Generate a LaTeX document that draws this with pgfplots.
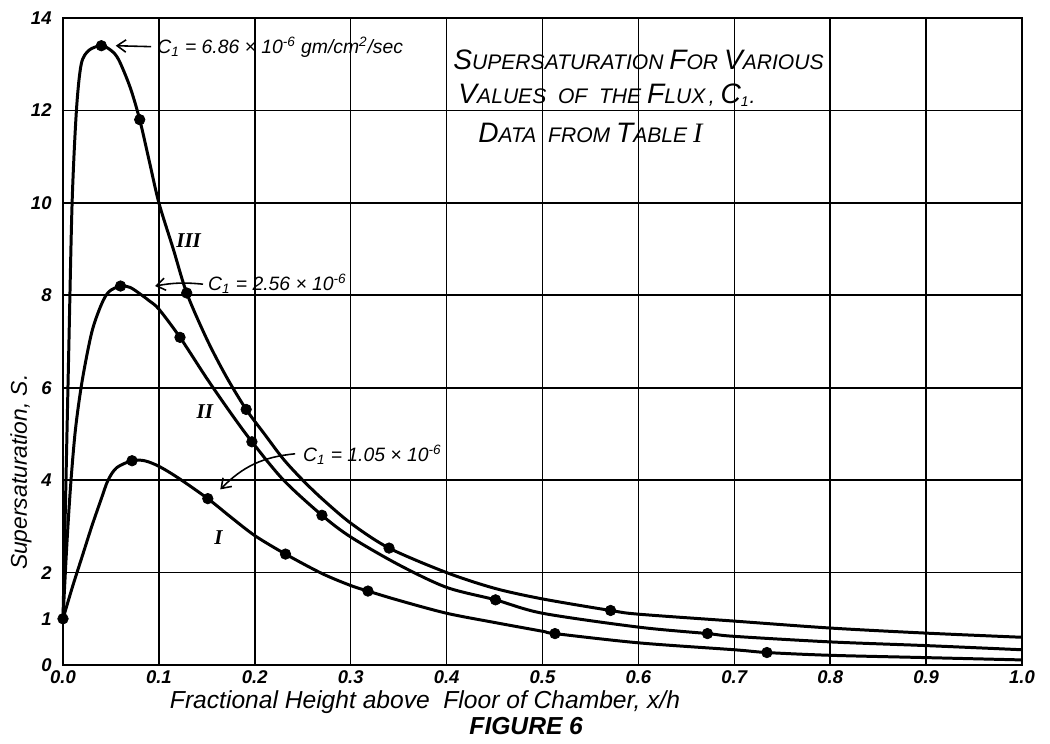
\documentclass[border=0pt]{standalone}
\usepackage{fontspec}
\setmainfont{Liberation Sans}
\newfontfamily\romanfont{Liberation Serif}
\usepackage{graphicx}
\usepackage{pgfplots}
\usepackage{pgfplotstable}
\pgfplotsset{compat=1.18}
\usetikzlibrary{arrows.meta}

% curve III, C1 = 6.86e-6
\pgfplotstableread{
x y
0 1
0.003 3.9
0.006 6.8
0.0095 10.0
0.014 12.0
0.019 13.0
0.027 13.3
0.040 13.4
0.050 13.3
0.058 13.1
0.070 12.5
0.080 11.8
0.090 10.9
0.100 10.0
0.115 9.0
0.129 8.05
0.150 7.05
0.170 6.25
0.191 5.53
0.210 5.0
0.230 4.45
0.250 4.0
0.270 3.6
0.300 3.07
0.340 2.53
0.400 2.0
0.450 1.66
0.500 1.43
0.571 1.18
0.600 1.1
0.700 0.95
0.800 0.8
0.900 0.69
1.000 0.6
}\curveIII
\pgfplotstableread{
x y
0.040 13.4
0.080 11.8
0.129 8.05
0.191 5.53
0.340 2.53
0.571 1.18
}\marksIII

% curve II, C1 = 2.56e-6
\pgfplotstableread{
x y
0 1
0.004 2.6
0.008 3.9
0.013 5.1
0.020 6.15
0.030 7.2
0.040 7.8
0.048 8.08
0.060 8.2
0.070 8.17
0.081 8.02
0.090 7.88
0.100 7.7
0.122 7.09
0.150 6.2
0.175 5.45
0.197 4.83
0.230 4.0
0.270 3.24
0.300 2.77
0.350 2.17
0.400 1.68
0.451 1.41
0.500 1.12
0.600 0.82
0.672 0.68
0.700 0.62
0.800 0.5
0.900 0.42
1.000 0.33
}\curveII
\pgfplotstableread{
x y
0.060 8.2
0.122 7.09
0.197 4.83
0.270 3.24
0.451 1.41
0.672 0.68
}\marksII

% curve I, C1 = 1.05e-6
\pgfplotstableread{
x y
0 1
0.010 1.7
0.020 2.35
0.030 3.0
0.040 3.6
0.047 4.0
0.056 4.27
0.072 4.42
0.085 4.42
0.100 4.3
0.120 4.05
0.151 3.6
0.175 3.2
0.200 2.8
0.232 2.4
0.270 1.98
0.300 1.72
0.318 1.6
0.350 1.4
0.400 1.12
0.450 0.92
0.500 0.73
0.513 0.68
0.600 0.48
0.700 0.33
0.734 0.27
0.800 0.21
0.900 0.16
1.000 0.11
}\curveI
\pgfplotstableread{
x y
0 1
0.072 4.42
0.151 3.6
0.232 2.4
0.318 1.6
0.513 0.68
0.734 0.27
}\marksI

\newcommand{\capL}[1]{{\fontsize{16}{18}\selectfont #1}}
\newcommand{\ann}{\fontsize{11}{13}\selectfont\itshape}

\begin{document}
\begin{tikzpicture}
\begin{axis}[
    name=ax,
    scale only axis, width=19.18cm, height=12.94cm,
    xmin=0, xmax=1, ymin=0, ymax=14,
    xtick={0,0.1,0.2,0.3,0.4,0.5,0.6,0.7,0.8,0.9,1.0},
    xticklabels={0.0,0.1,0.2,0.3,0.4,0.5,0.6,0.7,0.8,0.9,1.0},
    ytick={0,2,4,6,8,10,12,14},
    yticklabels={0,2,4,6,8,10,12,14},
    extra y ticks={1}, extra y tick labels={1},
    extra y tick style={grid=none},
    grid=major, major grid style={black, line width=0.9pt},
    axis line style={line width=1.2pt},
    major tick length=0pt,
    tick label style={font=\fontsize{10.5}{12}\selectfont\bfseries\itshape},
    yticklabel style={xshift=-3pt},
    xticklabel style={inner sep=1pt, yshift=-2pt},
    clip=false,
]
\addplot[black, line width=1.7pt, smooth, tension=0.5, no markers] table {\curveIII};
\addplot[black, line width=1.7pt, smooth, tension=0.5, no markers] table {\curveII};
\addplot[black, line width=1.7pt, smooth, tension=0.5, no markers] table {\curveI};
\addplot[black, only marks, mark=*, mark size=3pt] table {\marksIII};
\addplot[black, only marks, mark=*, mark size=3pt] table {\marksII};
\addplot[black, only marks, mark=*, mark size=3pt] table {\marksI};

% flux annotations
\node[anchor=west, font=\ann, inner sep=0pt] at (axis cs:0.098,13.36)
    {C\textsubscript{1} = 6.86 × 10\textsuperscript{-6} gm/cm\textsuperscript{2}/sec};
\draw[line width=0.9pt, -{Straight Barb[length=5pt,width=7pt]}] (axis cs:0.092,13.38) -- (axis cs:0.055,13.4);
\node[anchor=west, font=\ann, inner sep=0pt] at (axis cs:0.151,8.24)
    {C\textsubscript{1} = 2.56 × 10\textsuperscript{-6}};
\draw[line width=0.9pt, -{Straight Barb[length=5pt,width=7pt]}] (axis cs:0.146,8.24) to[bend right=8] (axis cs:0.096,8.2);
\node[anchor=west, font=\ann, inner sep=0pt] at (axis cs:0.25,4.55)
    {C\textsubscript{1} = 1.05 × 10\textsuperscript{-6}};
\draw[line width=0.9pt, -{Straight Barb[length=5pt,width=7pt]}] (axis cs:0.242,4.57) to[bend right=20] (axis cs:0.164,3.8);

% curve numbers
\node[font=\romanfont\bfseries\itshape\fontsize{12}{14}\selectfont] at (axis cs:0.131,9.18) {III};
\node[font=\romanfont\bfseries\itshape\fontsize{12}{14}\selectfont] at (axis cs:0.148,5.49) {II};
\node[font=\romanfont\bfseries\itshape\fontsize{12}{14}\selectfont] at (axis cs:0.162,2.75) {I};

% title
\node[anchor=base west, font=\fontsize{12}{14}\selectfont\itshape, inner sep=0pt] at (rel axis cs:0.4067,0.921)
    {\capL{S}UPERSATURATION \capL{F}OR \capL{V}ARIOUS};
\node[anchor=base west, font=\fontsize{12}{14}\selectfont\itshape, inner sep=0pt] at (rel axis cs:0.412,0.8686)
    {\capL{V}ALUES\ \ OF\ \ THE \capL{F}LUX\,,\ \capL{C}\textsubscript{1}.};
\node[anchor=base west, font=\fontsize{12}{14}\selectfont\itshape, inner sep=0pt] at (rel axis cs:0.4327,0.808)
    {\capL{D}ATA\ \ FROM \capL{T}ABLE \capL{\romanfont I}};

% axis labels
\node[rotate=90, font=\fontsize{13}{15}\selectfont\itshape] at ([xshift=-0.84cm]rel axis cs:0,0.298)
    {Supersaturation, S.};
\node[font=\fontsize{14}{16}\selectfont\itshape, inner sep=0pt] at ([yshift=-0.74cm]rel axis cs:0.3775,0)
    {Fractional Height above\ \ Floor of Chamber, x/h};
\node[font=\fontsize{14}{16}\selectfont\bfseries\itshape, inner sep=0pt] at ([yshift=-1.22cm]rel axis cs:0.483,0)
    {FIGURE 6};
\end{axis}
\pgfresetboundingbox
\path[use as bounding box] ([shift={(-1.26cm,-1.56cm)}]ax.south west) rectangle ([shift={(0.56cm,0.36cm)}]ax.north east);
\end{tikzpicture}
\end{document}
